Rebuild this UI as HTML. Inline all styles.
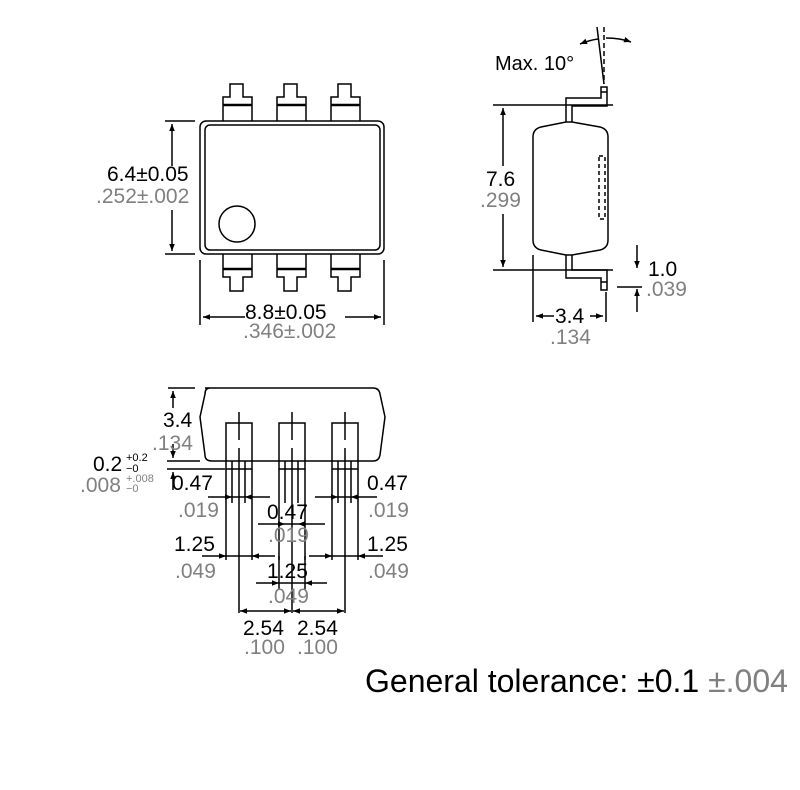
<!DOCTYPE html>
<html><head><meta charset="utf-8"><style>
body{margin:0;background:#fff}
svg{display:block}
text{font-family:"Liberation Sans",sans-serif;font-size:21px;fill:#000}
.g{fill:#808080}
</style></head><body>
<svg width="800" height="790" viewBox="0 0 800 790" xmlns="http://www.w3.org/2000/svg">
<defs>
<marker id="a" viewBox="0 0 10 10" refX="10" refY="5" markerWidth="9" markerHeight="7" orient="auto-start-reverse" markerUnits="userSpaceOnUse"><path d="M0,1 L10,5 L0,9 Z" fill="#000"/></marker>
</defs>
<g fill="none" stroke="#000" stroke-width="1.5">
<!-- TOP VIEW -->
<rect x="200" y="121" width="184" height="133" rx="6"/>
<rect x="205" y="125" width="175" height="125" rx="5"/>
<circle cx="237" cy="224" r="18"/>
<g id="pt">
<path d="M223,121 V97 H230 V84 H243 V97 H252 V121"/><line x1="223" y1="105" x2="252" y2="105" stroke-width="2.5"/>
</g>
<use href="#pt" x="54"/><use href="#pt" x="108"/>
<g id="pb">
<path d="M223,254 V277 H230 V291 H243 V277 H252 V254"/><line x1="223" y1="269" x2="252" y2="269" stroke-width="2.5"/>
</g>
<use href="#pb" x="54"/><use href="#pb" x="108"/>
<line x1="165" y1="121" x2="195" y2="121"/><line x1="165" y1="254" x2="195" y2="254"/>
<line x1="172" y1="124" x2="172" y2="166" marker-start="url(#a)"/><line x1="172" y1="210" x2="172" y2="251" marker-end="url(#a)"/>
<line x1="200" y1="260" x2="200" y2="325"/><line x1="384" y1="260" x2="384" y2="325"/>
<line x1="203" y1="317" x2="245" y2="317" marker-start="url(#a)"/><line x1="345" y1="317" x2="381" y2="317" marker-end="url(#a)"/>

<!-- SIDE VIEW -->
<path d="M566,122 L541,127 Q533,129 533,137 V240 Q533,248 541,250 L566,255 H572 L600,250 Q608,248 608,240 V137 Q608,129 600,127 L572,122 Z" fill="#fff"/>
<path d="M566,122 V98 H601 V87 H607 V106 H572 V122"/>
<line x1="601" y1="92" x2="607" y2="92"/>
<path d="M566,255 V278 H601 V290 H607 V270 H572 V255"/>
<line x1="601" y1="282" x2="607" y2="282"/>
<rect x="599" y="156" width="6" height="63" stroke-dasharray="4,3"/>
<line x1="493" y1="105" x2="613" y2="105"/>
<line x1="493" y1="270" x2="613" y2="270"/>
<line x1="503" y1="108" x2="503" y2="166" marker-start="url(#a)"/><line x1="503" y1="214" x2="503" y2="267" marker-end="url(#a)"/>
<line x1="617" y1="287" x2="642" y2="287"/>
<line x1="637" y1="245" x2="637" y2="268" marker-end="url(#a)"/><line x1="637" y1="289" x2="637" y2="312" marker-start="url(#a)"/>
<line x1="533" y1="255" x2="533" y2="322"/><line x1="606" y1="292" x2="606" y2="322"/>
<line x1="536" y1="316" x2="554" y2="316" marker-start="url(#a)"/><line x1="590" y1="316" x2="603" y2="316" marker-end="url(#a)"/>
<line x1="604" y1="27" x2="604" y2="84" stroke-dasharray="5,3"/>
<line x1="597" y1="27" x2="604" y2="84"/>
<path d="M580,44 Q590,40 598,39" marker-start="url(#a)"/>
<path d="M631,42 Q620,38 606,38" marker-start="url(#a)"/>

<!-- BOTTOM VIEW -->
<path d="M205,388 H373 Q379,388 380,394 L385,417 L380,455 Q379,461 373,461 H212 Q205,461 205,455 L200,417 L205,394 Q205,388 210,388" fill="#fff"/>
<g id="pn">
<rect x="226" y="423" width="26" height="46" fill="#fff"/>
<line x1="226" y1="461" x2="252" y2="461"/>
<line x1="232" y1="461" x2="232" y2="503"/><line x1="245" y1="461" x2="245" y2="503"/>
<line x1="239" y1="412" x2="239" y2="440"/><line x1="239" y1="448" x2="239" y2="613"/>
<line x1="226" y1="469" x2="226" y2="560"/><line x1="252" y1="469" x2="252" y2="560"/>
</g>
<use href="#pn" x="53"/><use href="#pn" x="106"/>
<line x1="168" y1="388" x2="195" y2="388"/>
<line x1="167" y1="461" x2="200" y2="461"/><line x1="167" y1="469" x2="225" y2="469"/>
<line x1="173" y1="391" x2="173" y2="408" marker-start="url(#a)"/><line x1="173" y1="444" x2="173" y2="458" marker-end="url(#a)"/>
<line x1="173" y1="472" x2="173" y2="490" marker-start="url(#a)"/>
<line x1="208" y1="497" x2="232" y2="497" marker-end="url(#a)"/><line x1="232" y1="497" x2="245" y2="497"/><line x1="270" y1="497" x2="245" y2="497" marker-end="url(#a)"/>
<line x1="315" y1="497" x2="338" y2="497" marker-end="url(#a)"/><line x1="338" y1="497" x2="351" y2="497"/><line x1="377" y1="497" x2="351" y2="497" marker-end="url(#a)"/>
<line x1="258" y1="524" x2="285" y2="524" marker-end="url(#a)"/><line x1="285" y1="524" x2="298" y2="524"/><line x1="325" y1="524" x2="298" y2="524" marker-end="url(#a)"/>
<line x1="202" y1="556" x2="226" y2="556" marker-end="url(#a)"/><line x1="226" y1="556" x2="252" y2="556"/><line x1="275" y1="556" x2="252" y2="556" marker-end="url(#a)"/>
<line x1="309" y1="556" x2="332" y2="556" marker-end="url(#a)"/><line x1="332" y1="556" x2="358" y2="556"/><line x1="383" y1="556" x2="358" y2="556" marker-end="url(#a)"/>
<line x1="256" y1="583" x2="279" y2="583" marker-end="url(#a)"/><line x1="279" y1="583" x2="305" y2="583"/><line x1="327" y1="583" x2="305" y2="583" marker-end="url(#a)"/>
<line x1="279" y1="556" x2="279" y2="590"/><line x1="305" y1="556" x2="305" y2="590"/>
<line x1="240" y1="611" x2="291" y2="611" marker-start="url(#a)" marker-end="url(#a)"/>
<line x1="293" y1="611" x2="344" y2="611" marker-start="url(#a)" marker-end="url(#a)"/>
</g>
<text x="107" y="181">6.4±0.05</text>
<text x="96" y="203" class="g">.252±.002</text>
<text x="245" y="319">8.8±0.05</text>
<text x="243" y="338" class="g">.346±.002</text>
<text x="495" y="70" style="font-size:20px">Max. 10°</text>
<text x="486" y="186">7.6</text>
<text x="480" y="207" class="g">.299</text>
<text x="648" y="276">1.0</text>
<text x="646" y="296" class="g">.039</text>
<text x="555" y="323">3.4</text>
<text x="550" y="344" class="g">.134</text>
<text x="163" y="427">3.4</text>
<text x="152" y="450" class="g">.134</text>
<text x="93" y="471">0.2</text>
<text x="126" y="461" style="font-size:11px">+0.2</text>
<text x="126" y="472" style="font-size:11px">−0</text>
<text x="80" y="492" class="g">.008</text>
<text x="126" y="482" class="g" style="font-size:11px">+.008</text>
<text x="126" y="492" class="g" style="font-size:11px">−0</text>
<text x="172" y="490">0.47</text>
<text x="178" y="517" class="g">.019</text>
<text x="367" y="490">0.47</text>
<text x="368" y="517" class="g">.019</text>
<text x="267" y="519">0.47</text>
<text x="268" y="542" class="g">.019</text>
<text x="174" y="551">1.25</text>
<text x="175" y="578" class="g">.049</text>
<text x="367" y="551">1.25</text>
<text x="368" y="578" class="g">.049</text>
<text x="267" y="578">1.25</text>
<text x="268" y="603" class="g">.049</text>
<text x="243" y="635">2.54</text>
<text x="297" y="635">2.54</text>
<text x="244" y="654" class="g">.100</text>
<text x="297" y="654" class="g">.100</text>
<text x="365" y="692" style="font-size:32px">General tolerance: ±0.1 <tspan class="g">±.004</tspan></text>
</svg>
</body></html>
